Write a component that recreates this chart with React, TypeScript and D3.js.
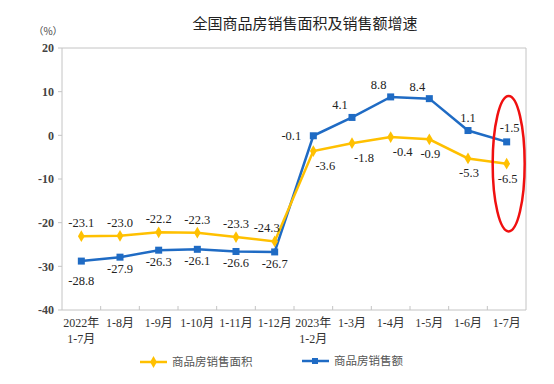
import * as d3 from 'd3';

const periods = [
    ['2022年', '1-7月'], ['1-8月'], ['1-9月'], ['1-10月'], ['1-11月'], ['1-12月'],
    ['2023年', '1-2月'], ['1-3月'], ['1-4月'], ['1-5月'], ['1-6月'], ['1-7月'],
];
const floorArea = [-23.1, -23.0, -22.2, -22.3, -23.3, -24.3, -3.6, -1.8, -0.4, -0.9, -5.3, -6.5];
const salesValue = [-28.8, -27.9, -26.3, -26.1, -26.6, -26.7, -0.1, 4.1, 8.8, 8.4, 1.1, -1.5];
const yTicks = [20, 10, 0, -10, -20, -30, -40];
const legendNames = ['商品房销售面积', '商品房销售额'];

const W = 554;
const H = 384;
const margin = { left: 62, right: 28, top: 48, bottom: 74 };
const YELLOW = '#FFC000';
const BLUE = '#1F6BC4';
const GRID = '#c4c4c4';
const serif = '"Liberation Serif", "Times New Roman", "Noto Sans CJK SC", serif';
const sans = '"Noto Sans CJK SC", "Noto Sans", sans-serif';

export default function App() {
    const x = d3.scaleBand()
        .domain(periods.map((_, i) => String(i)))
        .range([margin.left, W - margin.right])
        .padding(0);
    const y = d3.scaleLinear().domain([-40, 20]).range([H - margin.bottom, margin.top]);
    const cx = (i: number) => (x(String(i)) ?? 0) + x.bandwidth() / 2;

    const line = d3.line<number>().x((_, i) => cx(i)).y((d) => y(d));
    const diamond = d3.symbol().type(d3.symbolDiamond).size(40)();

    const x0 = margin.left;
    const x1 = W - margin.right;
    const y0 = y(20);
    const y1 = y(-40);

    // label offsets per segment
    const areaLabel = (i: number) => {
        if (i < 5) return { dx: 0, dy: -9 };
        if (i === 5) return { dx: -8, dy: -9 };
        if (i < 9) return { dx: 12, dy: 19 };
        return { dx: 1, dy: 19 };
    };
    const salesLabel = (i: number) => {
        if (i < 6) return { dx: 0, dy: i === 0 ? 24 : 16 };
        if (i === 6) return { dx: -22, dy: 4 };
        if (i === 10) return { dx: 0, dy: -9 };
        if (i === 11) return { dx: 3, dy: -10 };
        return { dx: -12, dy: -8 };
    };

    const lastX = cx(periods.length - 1);

    return (
        <svg width={W} height={H} style={{ position: 'absolute', left: 0, top: 0, background: '#fff' }}>
            <text x={305} y={29} textAnchor="middle" fontFamily={sans} fontSize={15} fill="#222">
                全国商品房销售面积及销售额增速
            </text>
            <text x={48} y={35} textAnchor="middle" fontFamily={sans} fontSize={10} fill="#444">（%）</text>

            {/* frame */}
            <line x1={x0} x2={x1} y1={y0} y2={y0} stroke={GRID} />
            <line x1={x1} x2={x1} y1={y0} y2={y1} stroke={GRID} />
            <line x1={x0} x2={x0} y1={y0} y2={y1} stroke={GRID} />
            <line x1={x0} x2={x1} y1={y1} y2={y1} stroke={GRID} />

            {yTicks.map((t) => (
                <g key={t}>
                    <line x1={x0 - 4} x2={x0} y1={y(t)} y2={y(t)} stroke={GRID} />
                    <text x={54} y={y(t)} dy="0.35em" textAnchor="end" fontFamily={serif}
                        fontSize={12} fontWeight="bold" fill="#444">{t}</text>
                </g>
            ))}

            {periods.map((p, i) => (
                <g key={i}>
                    {i > 0 && (
                        <line x1={x(String(i))} x2={x(String(i))} y1={y1} y2={y1 - 4} stroke={GRID} />
                    )}
                    {p.map((s, k) => (
                        <text key={k} x={cx(i)} y={y1 + 17 + k * 16} textAnchor="middle"
                            fontFamily={serif} fontSize={12} fill="#333">{s}</text>
                    ))}
                </g>
            ))}

            <path d={line(salesValue) ?? ''} fill="none" stroke={BLUE} strokeWidth={2.5} />
            {salesValue.map((v, i) => (
                <rect key={i} x={cx(i) - 3.5} y={y(v) - 3.5} width={7} height={7} fill={BLUE} />
            ))}
            <path d={line(floorArea) ?? ''} fill="none" stroke={YELLOW} strokeWidth={2.5} />
            {floorArea.map((v, i) => (
                <path key={i} d={diamond ?? ''} transform={`translate(${cx(i)},${y(v)})`} fill={YELLOW} />
            ))}

            {floorArea.map((v, i) => {
                const o = areaLabel(i);
                return (
                    <text key={i} x={cx(i) + o.dx} y={y(v) + o.dy} textAnchor="middle"
                        fontFamily={serif} fontSize={12.5} fill="#222">{v.toFixed(1)}</text>
                );
            })}
            {salesValue.map((v, i) => {
                const o = salesLabel(i);
                return (
                    <text key={i} x={cx(i) + o.dx} y={y(v) + o.dy} textAnchor="middle"
                        fontFamily={serif} fontSize={12.5} fill="#222">{v.toFixed(1)}</text>
                );
            })}

            <ellipse cx={lastX + 2} cy={(y(9) + y(-22)) / 2} rx={16} ry={(y(-22) - y(9)) / 2}
                fill="none" stroke="#f01010" strokeWidth={2.5} />

            {/* legend */}
            <g>
                <line x1={140} x2={167} y1={362} y2={362} stroke={YELLOW} strokeWidth={2.5} />
                <path d={diamond ?? ''} transform="translate(153.5,362)" fill={YELLOW} />
                <text x={172} y={362} dy="0.35em" fontFamily={sans} fontSize={11.5} fill="#555">{legendNames[0]}</text>
                <line x1={302} x2={329} y1={361} y2={361} stroke={BLUE} strokeWidth={2.5} />
                <rect x={312} y={358} width={6} height={6} fill={BLUE} />
                <text x={334} y={361} dy="0.35em" fontFamily={sans} fontSize={11.5} fill="#555">{legendNames[1]}</text>
            </g>
        </svg>
    );
}
